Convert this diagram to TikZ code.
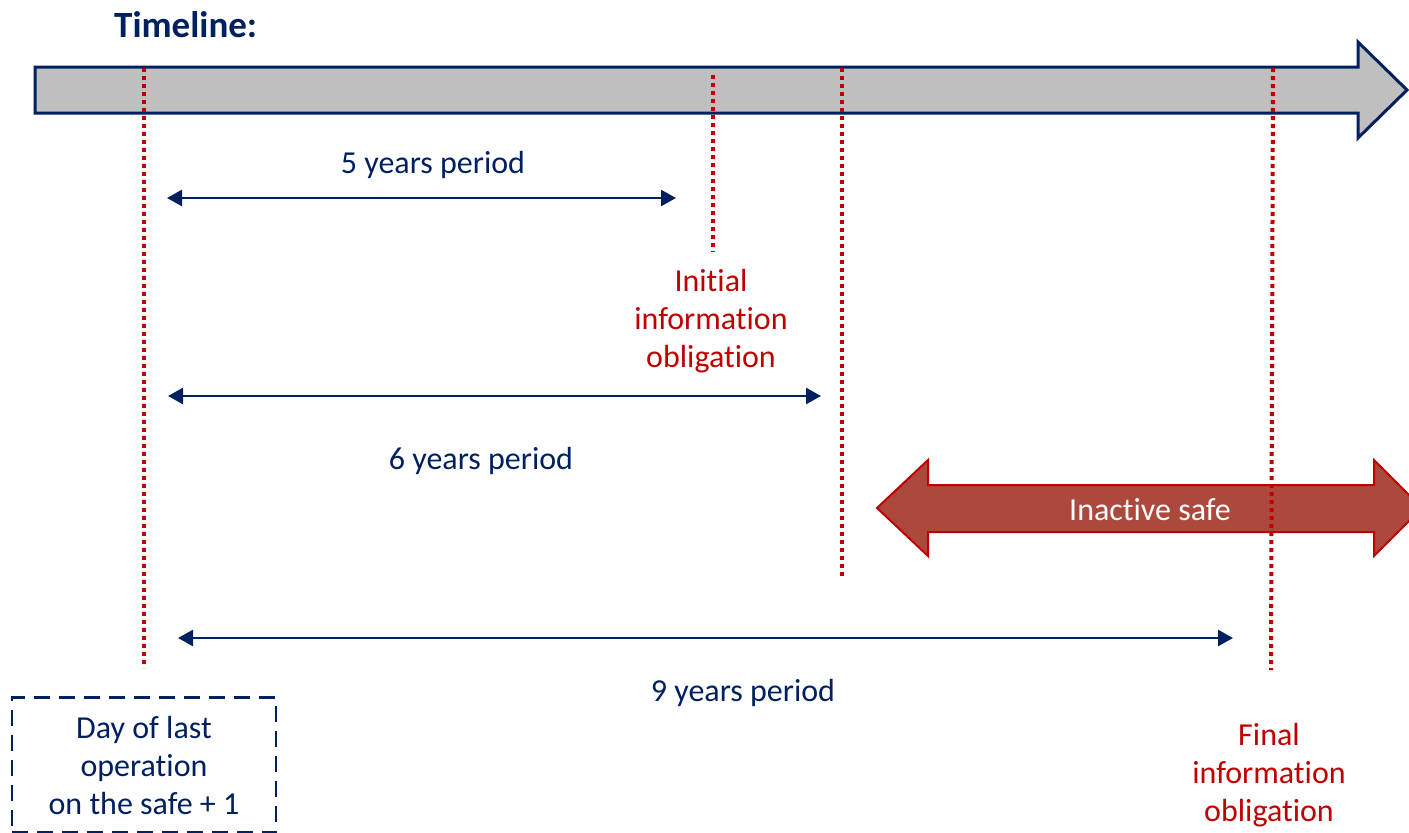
\documentclass[tikz,border=0pt]{standalone}
\usepackage{fontspec}
\setmainfont{Carlito}[Ligatures=NoCommon]
\usetikzlibrary{arrows.meta}
\definecolor{navy}{RGB}{0,32,96}
\definecolor{darkred}{RGB}{192,0,0}
\definecolor{safefill}{RGB}{173,72,61}
\definecolor{bargray}{RGB}{191,191,191}
\begin{document}
\begin{tikzpicture}[x=1pt,y=-1pt,
  label/.style={font=\fontsize{32}{38}\selectfont, align=center, inner sep=0pt},
  bluelabel/.style={label, text=navy},
  redlabel/.style={label, text=darkred},
  marker/.style={draw=darkred, line width=4pt, dash pattern=on 4pt off 4pt},
  span/.style={draw=navy, line width=2.5pt,
    {Triangle[length=15pt,width=16pt]}-{Triangle[length=15pt,width=16pt]}},
  startbox/.style={draw=navy, line width=2.5pt, dash pattern=on 16pt off 9pt,
    text=navy, font=\fontsize{32}{38}\selectfont, align=center,
    minimum width=264pt, minimum height=135pt, inner sep=0pt}]
\useasboundingbox (0,0) rectangle (1409,833);
\clip (0,0) rectangle (1409,833);

% title
\node[anchor=west, text=navy, font=\bfseries\fontsize{37}{40}\selectfont, inner sep=0pt]
  (title) at (114,25) {Timeline:};

% time axis as a block arrow
\draw[navy, line width=3pt, fill=bargray, line join=miter]
  (35,67) -- (1358,67) -- (1358,42) -- (1407,90) -- (1358,138)
  -- (1358,113) -- (35,113) -- cycle;

% inactive period as a double block arrow
\draw[darkred, line width=2pt, fill=safefill]
  (877,508) -- (928,460) -- (928,485) -- (1374,485) -- (1374,460)
  -- (1422,508) -- (1374,556) -- (1374,532) -- (928,532) -- (928,556) -- cycle;
\node[label, text=white] (inactive) at (1150,510) {Inactive safe};

% milestone markers
\coordinate (m0top) at (144,68);   \coordinate (m0bot) at (144,668);
\coordinate (m5top) at (713,75);   \coordinate (m5bot) at (713,252);
\coordinate (m6top) at (842,68);   \coordinate (m6bot) at (842,578);
\coordinate (m9top) at (1273,68);  \coordinate (m9bot) at (1271,670);
\draw[marker] (m0top) -- (m0bot);
\draw[marker] (m5top) -- (m5bot);
\draw[marker] (m6top) -- (m6bot);
\draw[marker] (m9top) -- (m9bot);

% periods
\coordinate (p5a) at (167,198);  \coordinate (p5b) at (676,198);
\coordinate (p6a) at (168,396);  \coordinate (p6b) at (821,396);
\coordinate (p9a) at (178,638);  \coordinate (p9b) at (1233,638);
\draw[span] (p5a) -- (p5b);
\draw[span] (p6a) -- (p6b);
\draw[span] (p9a) -- (p9b);

\node[bluelabel] (l5) at (433,165) {5 years period};
\node[bluelabel] (l6) at (481,461) {6 years period};
\node[bluelabel] (l9) at (743,693) {9 years period};

\node[redlabel] (initial) at (711,321) {Initial\\information\\obligation};
\node[redlabel] (final) at (1269,775) {Final\\information\\obligation};

\node[startbox] (start) at (144,765) {Day of last\\operation\\on the safe + 1};
\end{tikzpicture}
\end{document}
